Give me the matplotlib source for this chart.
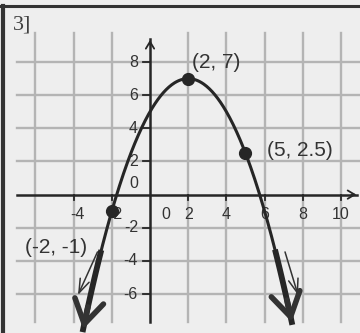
import numpy as np
import matplotlib
matplotlib.use("Agg")
import matplotlib.pyplot as plt
from matplotlib.lines import Line2D

# ---- data ----
point_x = [-2, 2, 5]
point_y = [-1, 7, 2.5]
point_labels = ["(-2, -1)", "(2, 7)", "(5, 2.5)"]
x_ticks = [-4, -2, 0, 2, 4, 6, 8, 10]
y_ticks = [-6, -4, -2, 0, 2, 4, 6, 8]
grid_x = [-6, -4, -2, 2, 4, 6, 8, 10]
grid_y = [-6, -4, -2, 2, 4, 6, 8]
curve_range = [-3.5, 7.42]
title_text = "3]"

FONT = "Liberation Sans"
INK = "#262626"
TXT = "#333333"
GRID = "#b4b4b4"

fig = plt.figure(figsize=(3.6, 3.33), dpi=100, facecolor="#eeeeee")
ax = fig.add_axes([0, 0, 1, 1])
ax.set_facecolor("#eeeeee")
ax.set_xlim(-7.853, 10.995)
ax.set_ylim(-8.352, 11.744)
ax.axis("off")

# grid
for gx in grid_x:
    ax.plot([gx, gx], [-7.69, 9.75], color=GRID, lw=1.7, zorder=1)
for gy in grid_y:
    ax.plot([-6.96, 11.0], [gy, gy], color=GRID, lw=1.7, zorder=1)

# axes
ax.plot([0, 0], [-7.69, 9.4], color=INK, lw=1.8, zorder=2)
ax.plot([-6.96, 10.85], [0, 0], color=INK, lw=1.8, zorder=2)
ax.annotate("", xy=(0, 9.5), xytext=(0, 8.9),
            arrowprops=dict(arrowstyle="->,head_length=0.5,head_width=0.3", lw=1.3, color=INK), zorder=2)
ax.annotate("", xy=(10.95, 0), xytext=(10.4, 0),
            arrowprops=dict(arrowstyle="->,head_length=0.5,head_width=0.3", lw=1.3, color=INK), zorder=2)

# tick marks
for t in y_ticks:
    if t != 0:
        ax.plot([-0.35, 0], [t, t], color=INK, lw=1.3, zorder=2)
for t in x_ticks:
    if t != 0:
        ax.plot([t, t], [0, -0.3], color=INK, lw=1.3, zorder=2)

# tick labels
for t in y_ticks:
    yy = t + (0.7 if t == 0 else 0)
    ax.text(-0.63, yy, f"{t}", ha="right", va="center",
            fontsize=11.5, family=FONT, color=TXT, zorder=3)
for t in x_ticks:
    xx = t + (0.85 if t == 0 else (0.2 if t < 0 else 0))
    ax.text(xx, -1.23, f"{t}", ha="center", va="center",
            fontsize=11.5, family=FONT, color=TXT, zorder=3)

# parabola through the three labelled points
coef = np.polyfit(point_x, point_y, 2)
xs = np.linspace(curve_range[0], curve_range[1], 300)
ys = np.polyval(coef, xs)
ax.plot(xs, ys, color=INK, lw=2.2, zorder=4, solid_capstyle="round")
# thickened ends
m = ys < -3.4
ax.plot(xs[m & (xs < 2)], ys[m & (xs < 2)], color=INK, lw=4.2, zorder=4)
ax.plot(xs[m & (xs > 2)], ys[m & (xs > 2)], color=INK, lw=4.2, zorder=4)

# arrow heads at curve ends
for x0, x1 in [(curve_range[0] + 0.25, curve_range[0]), (curve_range[1] - 0.25, curve_range[1])]:
    ax.annotate("", xy=(x1, np.polyval(coef, x1)), xytext=(x0, np.polyval(coef, x0)),
                arrowprops=dict(arrowstyle="->,head_length=1.7,head_width=1.05",
                                lw=4, color="#333333", shrinkA=0, shrinkB=0), zorder=5)

# thin hand-drawn arrows
for (sx, sy), (ex, ey) in [((-2.75, -3.46), (-3.77, -6.06)), ((7.07, -3.46), (7.75, -6.06))]:
    ax.annotate("", xy=(ex, ey), xytext=(sx, sy),
                arrowprops=dict(arrowstyle="->,head_length=1.0,head_width=0.35",
                                lw=1.1, color="#333333", shrinkA=0, shrinkB=0), zorder=5)

# points
ax.plot(point_x, point_y, "o", color=INK, ms=8.5, zorder=6)

# point labels
label_pos = [(-6.55, -3.2, "left"), (2.2, 8.0, "left"), (6.1, 2.65, "left")]
for (lx, ly, ha), s in zip(label_pos, point_labels):
    ax.text(lx, ly, s, ha=ha, va="center", fontsize=15, family=FONT, color=TXT, zorder=6)

# title
ax.text(-7.15, 10.25, title_text, ha="left", va="center", fontsize=16,
        family="Liberation Serif", color="#404040", zorder=6)

# frame (top and left)
fig.add_artist(Line2D([0, 1], [1 - 6 / 333, 1 - 6 / 333], transform=fig.transFigure, color="#333333", lw=2.2))
fig.add_artist(Line2D([2.5 / 360, 2.5 / 360], [0, 1 - 6 / 333], transform=fig.transFigure, color="#333333", lw=3))

fig.savefig("out.png", dpi=100, facecolor=fig.get_facecolor())
